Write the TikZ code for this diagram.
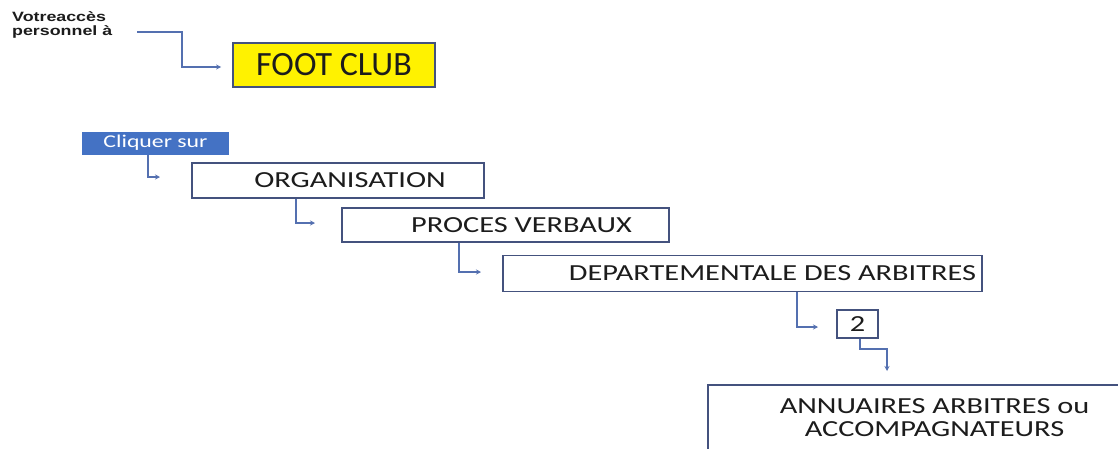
\documentclass[tikz,border=0pt]{standalone}
\usepackage{fontspec}
\setmainfont{Carlito}
\newfontfamily\arialf{Liberation Sans}
\usetikzlibrary{arrows.meta}
\definecolor{boxline}{HTML}{44527E}
\definecolor{connline}{HTML}{5470B0}
\definecolor{txt}{HTML}{1C1C1C}
\definecolor{clickblue}{HTML}{4472C4}
\newcommand{\sxw}[1]{\scalebox{1.32}[1]{#1}}
\begin{document}
\begin{tikzpicture}[x=1pt,y=-1pt,
  stepbox/.style={draw=boxline, line width=1.8pt, fill=white, text=txt, inner sep=0pt, font=\fontsize{23}{23}\selectfont},
  conn/.style={draw=connline, line width=1.6pt, -{Stealth[length=5pt,width=5pt]}},
]
\clip (0,0) rectangle (1118,448);
\fill[white] (0,0) rectangle (1118,448);

% intro text
\node[anchor=north west, align=left, inner sep=0pt, text=txt,
      font=\arialf\bfseries\fontsize{13.5}{13.5}\selectfont] (votre) at (12,11.5)
  {\sxw{Votreaccès}\\\sxw{personnel à}};
\coordinate (vstart) at (137,32);

% FOOT CLUB
\node[draw=boxline, line width=1.8pt, fill=yellow, text=txt, inner sep=0pt,
      minimum width=202pt, minimum height=44pt,
      font=\fontsize{34}{34}\selectfont] (foot) at (334,65) {FOOT CLUB\hspace{16pt}};
\draw[conn] (vstart) -- ++(45,0) |- ([xshift=-11pt,yshift=-2pt]foot.west);

% Cliquer sur
\node[fill=clickblue, text=white, inner sep=0pt, minimum width=147pt, minimum height=23pt,
      font=\fontsize{18}{18}\selectfont] (cliquer) at (155.5,143) {\sxw{Cliquer sur}};

% steps
\node[stepbox, minimum width=292pt, minimum height=35pt] (orga) at (338,180.5)
  {\hspace{24pt}\sxw{ORGANISATION}};
\node[stepbox, minimum width=327pt, minimum height=34pt] (proces) at (505.5,225)
  {\hspace{32pt}\sxw{PROCES VERBAUX}};
\node[stepbox, minimum width=479pt, minimum height=36pt] (depart) at (742.5,273.5)
  {\hspace{60pt}\sxw{DEPARTEMENTALE DES ARBITRES}};
\node[stepbox, minimum width=41pt, minimum height=28pt] (two) at (857.5,324)
  {\sxw{2}};
\node[stepbox, minimum width=417pt, minimum height=70pt] (annu) at (916.5,420)
  {\hspace{36pt}\sxw{\begin{tabular}{@{}c@{}}ANNUAIRES ARBITRES ou\\ACCOMPAGNATEURS\end{tabular}}};

% arrow ends
\coordinate (t1) at (160,177);
\coordinate (t2) at (315,223);
\coordinate (t3) at (481,272);
\coordinate (t4) at (818,327);
\coordinate (t5) at (887,371);

\draw[conn] ([xshift=66pt]cliquer.south west) |- (t1);
\draw[conn] ([xshift=105pt]orga.south west) |- (t2);
\draw[conn] ([xshift=118pt]proces.south west) |- (t3);
\draw[conn] ([xshift=295pt]depart.south west) |- (t4);
\draw[conn] ([xshift=2.5pt]two.south) -- ++(0,10) -| (t5);
\end{tikzpicture}
\end{document}
